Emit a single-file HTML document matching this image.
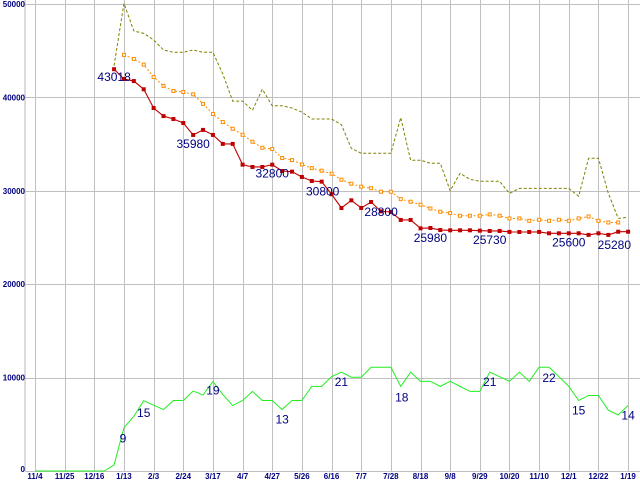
<!DOCTYPE html>
<html><head><meta charset="utf-8"><style>
html,body{margin:0;padding:0;background:#fff;}
svg{display:block;font-family:"Liberation Sans",sans-serif;}
</style></head><body>
<svg id="chart" width="640" height="480" viewBox="0 0 640 480" xmlns="http://www.w3.org/2000/svg"></svg>
<script>
const xTickLabels = ["11/4","11/25","12/16","1/13","2/3","2/24","3/17","4/7","4/27","5/26","6/16","7/7","7/28","8/18","9/8","9/29","10/20","11/10","12/1","12/22","1/19"];
const yTickValues = [0,10000,20000,30000,40000,50000];
const priceStart = 8;
const priceMin = [43018,41970,41750,40870,38860,38000,37690,37260,35980,36520,35980,35020,35020,32800,32550,32550,32800,32120,32050,31480,31050,30980,29630,28160,28980,28160,28800,27800,27730,26880,26880,25980,26020,25800,25770,25770,25770,25730,25700,25700,25600,25590,25590,25600,25450,25450,25450,25450,25280,25450,25280,25620,25620];
const priceAvg = [null,44550,44120,43510,42190,41230,40690,40580,40330,39300,38220,37360,36640,36000,35250,34610,34470,33510,33290,32820,32430,32150,31830,31190,30760,30440,30280,29900,29900,29110,28830,28510,28110,27760,27610,27330,27330,27330,27470,27330,27040,27040,26790,26900,26790,26900,26790,27040,27250,26790,26610,26610];
const priceMax = [43400,50070,47110,46860,46150,45080,44830,44830,45080,44830,44830,42510,39600,39600,38620,40870,39100,39100,38860,38430,37690,37690,37690,37080,34550,34020,34020,34020,34020,37830,33270,33270,32950,32950,30010,31870,31230,31020,31020,31020,29730,30260,30260,30260,30260,30260,30260,29410,33480,33480,29730,27050,27160];
const countVals = [0,0,0,0,0,0,0,0,650,4640,5860,7520,7050,6580,7550,7550,8560,8130,9570,8200,7010,7550,8520,7550,7550,6580,7550,7550,9060,9060,10100,10580,10040,10040,11110,11110,11110,9060,10580,9600,9600,9060,9600,9060,8520,8520,10580,10100,9600,10580,9600,11110,11110,10100,9060,7550,8090,8090,6510,6010,7010];
const priceLabels = [[8,"43018",0,12],[16,"35980",0,13],[24,"32800",0,13],[29,"30800",1,14],[34,"28800",10,14],[40,"25980",0,14],[46,"25730",0,13],[54,"25600",0,13],[58,"25280",6,14]];
const countLabels = [[9,"9",-1,15],[11,"15",0,16],[18,"19",0,13],[25,"13",0,14],[31,"21",0,14],[37,"18",1,15],[46,"21",0,14],[52,"22",0,15],[55,"15",0,14],[60,"14",0,14]];

const NS="http://www.w3.org/2000/svg";
const svg=document.getElementById('chart');
const X0=35, WK=9.885, Y0=471, YS=0.00934;
const xs=w=>X0+w*WK;
const ys=v=>Y0-v*YS;
function mk(t,a,p){const e=document.createElementNS(NS,t);for(const k in a)e.setAttribute(k,a[k]);(p||svg).appendChild(e);return e;}

const grid=mk('g',{});


mk('line',{x1:25,y1:0,x2:25,y2:Y0,stroke:'#b8b8b8','stroke-width':1},grid);
xTickLabels.forEach((l,i)=>{
  const x=Math.round(xs(i*3))+0.5;
  mk('line',{x1:x,y1:0,x2:x,y2:Y0,stroke:'#c0c0c0','stroke-width':1},grid);
  const t=mk('text',{x:xs(i*3),y:479,'text-anchor':'middle','font-size':8,'font-weight':'bold',fill:'#000080'});
  t.textContent=l;
  
  
});
yTickValues.forEach(v=>{
  const y=Math.round(ys(v))+0.5;
  mk('line',{x1:25,y1:y,x2:640,y2:y,stroke:'#c0c0c0','stroke-width':1},grid);
  const t=mk('text',{x:25,y:v===0?ys(v)+1:ys(v)+3,'text-anchor':'end','font-size':8,'font-weight':'bold',fill:'#000080'});
  t.textContent=String(v);
  
  
});

function pts(arr,start){const p=[];arr.forEach((v,i)=>{if(v!==null)p.push([xs(start+i),ys(v)]);});return p;}
function line(arr,start,attrs,name){
  const p=pts(arr,start);
  const e=mk('polyline',Object.assign({points:p.map(q=>q.join(',')).join(' '),fill:'none'},attrs));
  
  
  return p;
}
line(priceMax,priceStart,{stroke:'#808000','stroke-width':1,'stroke-dasharray':'3,2'},'max-price-line');
const pa=line(priceAvg,priceStart,{stroke:'#ff8c00','stroke-width':1,'stroke-dasharray':'2,2'},'avg-price-line');
pa.forEach(q=>{const r=mk('rect',{x:q[0]-1.5,y:q[1]-1.5,width:3,height:3,fill:'#fff',stroke:'#ff8c00','stroke-width':1});
  });
const pm=line(priceMin,priceStart,{stroke:'#c00000','stroke-width':1.1},'min-price-line');
pm.forEach(q=>{const r=mk('rect',{x:q[0]-2,y:q[1]-2,width:4,height:4,fill:'#c00000'});
  });
line(countVals,0,{stroke:'#22ee22','stroke-width':1},'count-line');

priceLabels.forEach(([w,txt,dx,dy])=>{
  const t=mk('text',{x:xs(w)+dx,y:ys(priceMin[w-priceStart])+dy,'text-anchor':'middle','font-size':12,fill:'#000080'});
  t.textContent=txt;
  
  
});
countLabels.forEach(([w,txt,dx,dy])=>{
  const t=mk('text',{x:xs(w)+dx,y:ys(countVals[w])+dy,'text-anchor':'middle','font-size':12,fill:'#000080'});
  t.textContent=txt;
  
  
});
</script>
</body></html>
